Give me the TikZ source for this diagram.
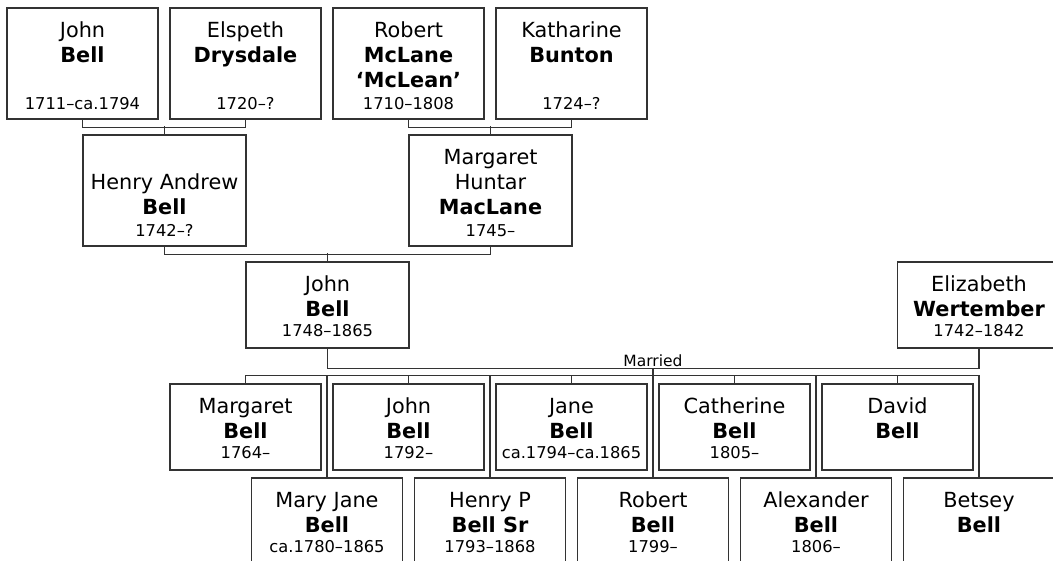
\documentclass[tikz,border=0pt]{standalone}
\usepackage{fontspec}
\setmainfont{DejaVu Sans}
\newcommand{\namefont}{\fontsize{20.8}{25.3}\selectfont}
\newcommand{\yr}{\fontsize{16.3}{20}\selectfont}
\tikzset{
  person/.style={draw=black!80, line width=1.2pt, inner sep=0pt, align=center,
    font=\namefont, text depth=5pt},
  tall/.style={person, minimum height=111pt, text height=97.8pt},
  flat/.style={person, minimum height=86pt, text height=68.6pt},
  narrow/.style={minimum width=151pt},
  wide/.style={minimum width=163pt},
  link/.style={draw=black!80, line width=1.2pt},
}
\begin{document}
\begin{tikzpicture}[x=1pt, y=-1pt]
  \useasboundingbox (0,0) rectangle (1053,560);
  \clip (0,0) rectangle (1053,560);
  % grandparents
  \node[tall, narrow] (jbella) at (82.5,63.5) {John\\ \textbf{Bell}\\ \\[-3pt] {\yr 1711--ca.1794}};
  \node[tall, narrow] (edrys) at (245.5,63.5) {Elspeth\\ \textbf{Drysdale}\\ \\[-3pt] {\yr 1720--?}};
  \node[tall, narrow] (rmclane) at (408.5,63.5) {Robert\\ \textbf{McLane}\\ \textbf{‘McLean’}\\[-3pt] {\yr 1710--1808}};
  \node[tall, narrow] (kbunton) at (571.5,63.5) {Katharine\\ \textbf{Bunton}\\ \\[-3pt] {\yr 1724--?}};
  % parents
  \node[tall, wide] (hbell) at (164.5,190.5) {\\ Henry Andrew\\ \textbf{Bell}\\[-3pt] {\yr 1742--?}};
  \node[tall, wide] (mmaclane) at (490.5,190.5) {Margaret\\ Huntar\\ \textbf{MacLane}\\[-3pt] {\yr 1745--}};
  % couple
  \node[flat, wide] (jbellb) at (327.5,305) {John\\ \textbf{Bell}\\[-4.8pt] {\yr 1748--1865}};
  \node[flat, wide] (ewert) at (979,305) {Elizabeth\\ \textbf{Wertember}\\[-4.8pt] {\yr 1742--1842}};
  % children, upper row
  \node[flat, narrow] (margaret) at (245.5,427) {Margaret\\ \textbf{Bell}\\[-4.8pt] {\yr 1764--}};
  \node[flat, narrow] (john) at (408.5,427) {John\\ \textbf{Bell}\\[-4.8pt] {\yr 1792--}};
  \node[flat, narrow] (jane) at (571.5,427) {Jane\\ \textbf{Bell}\\[-4.8pt] {\yr ca.1794--ca.1865}};
  \node[flat, narrow] (catherine) at (734.5,427) {Catherine\\ \textbf{Bell}\\[-4.8pt] {\yr 1805--}};
  \node[flat, narrow] (david) at (897.5,427) {David\\ \textbf{Bell}\\[-4.8pt] \mbox{}};
  % children, lower row
  \node[flat, narrow] (maryjane) at (327,521) {Mary Jane\\ \textbf{Bell}\\[-4.8pt] {\yr ca.1780--1865}};
  \node[flat, narrow] (henryp) at (490,521) {Henry P\\ \textbf{Bell Sr}\\[-4.8pt] {\yr 1793--1868}};
  \node[flat, narrow] (robert) at (653,521) {Robert\\ \textbf{Bell}\\[-4.8pt] {\yr 1799--}};
  \node[flat, narrow] (alexander) at (816,521) {Alexander\\ \textbf{Bell}\\[-4.8pt] {\yr 1806--}};
  \node[flat, narrow] (betsey) at (979,521) {Betsey\\ \textbf{Bell}\\[-4.8pt] \mbox{}};
  % family lines
  \draw[link] (jbella.south) -- ++(0,8) -| (edrys.south);
  \draw[link] (hbell.north) -- ++(0,-8);
  \draw[link] (rmclane.south) -- ++(0,8) -| (kbunton.south);
  \draw[link] (mmaclane.north) -- ++(0,-8);
  \draw[link] (hbell.south) -- ++(0,8) -| (mmaclane.south);
  \draw[link] (jbellb.north) -- ++(0,-8);
  \draw[link] (jbellb.south) -- ++(0,20) -| (ewert.south);
  \coordinate (wed) at (653,368);
  \node[above, inner sep=1.5pt, font=\fontsize{15.5}{18}\selectfont] (married) at (wed) {Married};
  \draw[link] (margaret.north) -- ++(0,-8) -| (betsey.north);
  \coordinate (sibs) at (653,376);
  \draw[link] (wed) -- (sibs);
  \foreach \kid in {john, jane, catherine, david, maryjane, henryp, robert, alexander}
    \draw[link] (\kid.north) -- (\kid.north |- sibs);
\end{tikzpicture}
\end{document}
